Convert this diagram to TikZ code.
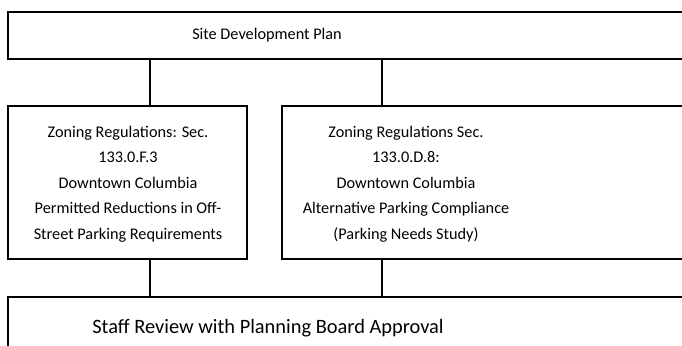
\documentclass[tikz,border=0pt]{standalone}
\usepackage{fontspec}
\setmainfont{Carlito}
\usetikzlibrary{fit}
\begin{document}
\begin{tikzpicture}[x=0.75pt,y=-0.75pt,
  box/.style={draw=black, line width=1.5pt, rectangle, inner sep=0pt},
  lbl/.style={align=center, font=\fontsize{12.2}{19.1}\selectfont, inner sep=0pt},
  biglbl/.style={font=\fontsize{15.3}{18}\selectfont, inner sep=0pt},
  conn/.style={draw=black, line width=1.5pt}]
\useasboundingbox (0,0) rectangle (682,346);
\clip (0,0) rectangle (682,346);
% corner coordinates
\coordinate (tA) at (8,12);   \coordinate (tB) at (700,59);
\coordinate (lA) at (8,106);  \coordinate (lB) at (247,259);
\coordinate (rA) at (282,106);\coordinate (rB) at (700,259);
\coordinate (bA) at (8,297);  \coordinate (bB) at (700,370);
% boxes
\node[box, fit=(tA)(tB)] (top) {};
\node[box, fit=(lA)(lB)] (left) {};
\node[box, fit=(rA)(rB)] (right) {};
\node[box, fit=(bA)(bB)] (bottom) {};
% texts
\node[lbl] (toptext) at (267,35.5) {Site Development Plan};
\node[lbl] (lefttext) at (128,184) {Zoning Regulations: Sec.\\133.0.F.3\\Downtown Columbia\\Permitted Reductions in Off-\\Street Parking Requirements};
\node[lbl] (righttext) at (406,184) {Zoning Regulations Sec.\\133.0.D.8:\\Downtown Columbia\\Alternative Parking Compliance\\(Parking Needs Study)};
\node[biglbl] (bottomtext) at (268,328) {Staff Review with Planning Board Approval};
% connectors
\draw[conn] (top.south -| 150,0) -- (left.north -| 150,0);
\draw[conn] (top.south -| 382,0) -- (right.north -| 382,0);
\draw[conn] (left.south -| 150,0) -- (bottom.north -| 150,0);
\draw[conn] (right.south -| 382,0) -- (bottom.north -| 382,0);
\end{tikzpicture}
\end{document}
